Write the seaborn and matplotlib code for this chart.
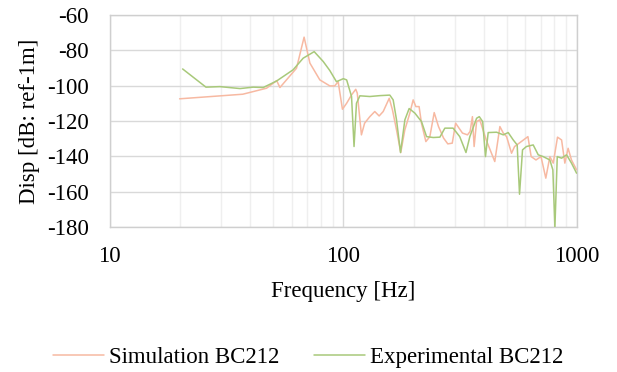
import numpy as np
import pandas as pd
import matplotlib
matplotlib.use("Agg")
import matplotlib.pyplot as plt
from matplotlib.ticker import FixedLocator, NullFormatter, LogLocator
import seaborn as sns

# ---------------- data ----------------
sim_freq = [19.9, 37.1, 46.9, 51.8, 53.5, 63.0, 67.9, 71.9, 79.3, 87.5, 91.8, 95.0,
            99.1, 103.3, 108.4, 113.0, 114.7, 119.5, 123.3, 129.8, 136.3, 142.3,
            148.1, 157.2, 162.3, 168.9, 176.1, 183.3, 192.6, 199.0, 204.4, 211.0,
            216.0, 225.6, 234.6, 244.9, 255.5, 268.8, 280.0, 292.6, 302.5, 312.8,
            323.6, 340.0, 348.8, 357.0, 363.0, 372.0, 384.0, 409.0, 445.0, 468.0,
            484.0, 500.0, 525.0, 541.0, 570.0, 617.0, 637.0, 668.0, 702.0, 736.0,
            766.0, 792.0, 826.0, 860.0, 888.0, 917.0, 948.0, 997.0]
sim_db = [-107.5, -104.9, -101.5, -97.2, -101.1, -90.2, -72.6, -87.3, -96.8, -100.2,
          -100.2, -97.8, -113.4, -110.0, -105.3, -102.1, -104.3, -127.9, -121.3,
          -117.6, -114.7, -117.2, -114.7, -107.2, -113.8, -125.1, -137.9, -125.1,
          -115.6, -108.1, -111.9, -111.9, -121.3, -131.7, -128.9, -115.3, -123.2,
          -129.8, -133.0, -132.6, -121.3, -124.1, -126.9, -127.9, -126.0, -117.6,
          -134.5, -120.4, -119.4, -130.8, -143.0, -123.2, -126.9, -128.9, -138.3,
          -134.5, -132.3, -128.9, -140.2, -142.1, -140.2, -152.4, -140.2, -143.9,
          -129.2, -130.8, -143.9, -135.5, -142.1, -147.7]

exp_freq = [20.5, 25.8, 29.6, 36.1, 41.1, 45.4, 51.8, 60.9, 67.3, 75.0, 82.0, 87.5,
            93.4, 100.0, 103.3, 108.4, 111.1, 113.8, 117.7, 129.8, 143.2, 158.1,
            163.4, 168.9, 175.7, 183.4, 191.3, 202.4, 216.1, 227.1, 242.5, 259.0,
            272.0, 295.0, 315.0, 335.0, 348.0, 372.0, 382.0, 395.0, 406.0, 417.0,
            453.0, 484.0, 508.0, 534.0, 555.0, 568.0, 585.0, 608.0, 650.0, 683.0,
            717.0, 766.0, 789.0, 805.0, 824.0, 860.0, 903.0, 948.0, 997.0]
exp_db = [-90.6, -100.9, -100.6, -101.7, -100.9, -101.1, -97.4, -91.1, -84.5, -80.8,
          -86.4, -91.5, -97.8, -96.1, -96.8, -106.2, -134.5, -110.0, -105.8, -106.2,
          -105.7, -105.4, -108.1, -119.4, -137.9, -119.4, -113.0, -115.6, -120.4,
          -128.9, -129.4, -129.2, -124.1, -124.1, -128.9, -137.9, -128.9, -118.5,
          -117.6, -120.4, -140.2, -126.6, -126.4, -127.9, -126.6, -130.8, -133.6,
          -161.5, -136.4, -134.5, -133.6, -139.2, -140.2, -142.1, -147.7, -180.5,
          -140.2, -141.1, -139.2, -143.9, -149.6]

series_names = ["Simulation BC212", "Experimental BC212"]
series_colors = ["#F7B9A2", "#A8C97A"]
y_ticks = [-60, -80, -100, -120, -140, -160, -180]
x_ticks = [10, 100, 1000]

df = pd.concat([
    pd.DataFrame({"freq": sim_freq, "db": sim_db, "series": series_names[0]}),
    pd.DataFrame({"freq": exp_freq, "db": exp_db, "series": series_names[1]}),
], ignore_index=True)

# ---------------- plot ----------------
sns.set_style("white")
plt.rcParams["font.family"] = ["Liberation Serif", "DejaVu Serif"]
plt.rcParams["text.color"] = "black"
plt.rcParams["axes.labelcolor"] = "black"

FS = 16.5

fig = plt.figure(figsize=(6.17, 3.72), dpi=100)
ax = fig.add_axes([0.178, 0.390, 0.757, 0.570])

sns.lineplot(data=df, x="freq", y="db", hue="series", palette=series_colors,
             hue_order=series_names, sort=False, estimator=None, linewidth=1.1,
             ax=ax, legend=False, zorder=3)

ax.set_xscale("log")
ax.set_xlim(10, 1000)
ax.set_ylim(-180, -60)
ax.xaxis.set_major_locator(FixedLocator(x_ticks))
ax.set_xticklabels([str(t) for t in x_ticks])
ax.xaxis.set_minor_locator(LogLocator(base=10, subs=np.arange(2, 10)))
ax.xaxis.set_minor_formatter(NullFormatter())
ax.set_yticks(y_ticks)
ax.set_yticklabels([str(t) for t in y_ticks])

ax.grid(which="major", axis="both", color="#d9d9d9", linewidth=1.0, zorder=0)
ax.grid(which="minor", axis="x", color="#efefef", linewidth=1.0, zorder=0)
ax.set_axisbelow(True)
for s in ax.spines.values():
    s.set_color("#cfcfcf")
    s.set_linewidth(1.0)

ax.tick_params(axis="both", which="both", length=0, labelsize=FS, colors="black")
ax.tick_params(axis="x", pad=14)
ax.tick_params(axis="y", pad=15)
ax.set_xlabel("Frequency [Hz]", fontsize=FS, labelpad=10)
ax.set_ylabel("Disp [dB: ref-1m]", fontsize=FS, labelpad=5)

handles = [plt.Line2D([], [], color=c, linewidth=1.1) for c in series_colors]
fig.legend(handles, series_names, loc="center", bbox_to_anchor=(0.5, 0.04),
           ncol=2, frameon=False, fontsize=FS, handlelength=2.2,
           handletextpad=0.25, columnspacing=1.5)

fig.savefig("out.png", dpi=100)
